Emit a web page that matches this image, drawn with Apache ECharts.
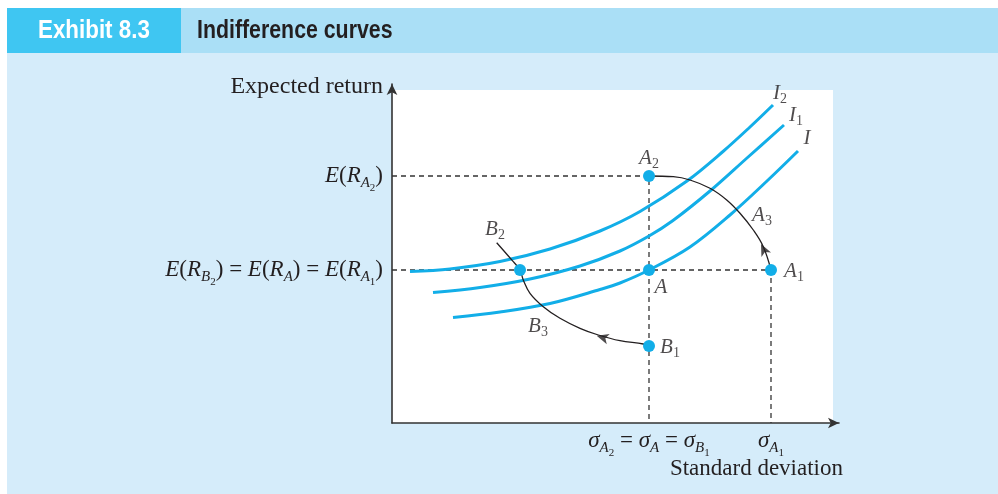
<!DOCTYPE html>
<html lang="en">
<head>
<meta charset="utf-8">
<title>Indifference curves</title>
<script src="https://cdn.jsdelivr.net/npm/echarts@6/dist/echarts.min.js"></script>
</head>
<body style="margin:0;background:#fff">
<div id="main" style="width:998px;height:494px"></div>
<script type="text/javascript">
    // axis extents (std deviation / expected return, arbitrary units)
    var xMax = 44.7;
    var yMax = 33.9;
    var plotBox = [44.1, 33.3];   // white plotting area

    // key values
    var sigmaA = 25.7, sigmaA1 = 37.9;
    var retA = 15.3, retA2 = 24.7;

    // indifference curves
    var curveI2 = [[1.8, 15.15], [5.8, 15.4], [10.8, 16.15], [15.8, 17.4], [20.8, 19.2], [24.8, 21.15], [29.5, 24.2], [33.1, 27.15], [35.8, 29.6], [38.1, 31.8]];
    var curveI1 = [[4.1, 13.05], [8.8, 13.55], [13.8, 14.4], [18.8, 15.7], [22.8, 17.2], [25.7, 18.7], [28.1, 20.25], [31.8, 23.2], [35.5, 26.5], [39.2, 29.8]];
    var curveI = [[6.1, 10.55], [10.8, 11.1], [15.8, 11.95], [20.8, 13.35], [22.8, 14.0], [25.7, 15.3], [29.8, 17.6], [33.8, 20.8], [37.5, 24.2], [40.6, 27.2]];

    // movement arcs
    var arcA = [[25.7, 24.7], [28.13, 24.63], [29.8, 24.3], [31.8, 23.47], [33.47, 22.3], [34.8, 20.97], [36.13, 19.3], [37.13, 17.63], [37.9, 15.3]];
    var arcB = [[10.47, 18.03], [12.13, 16.13], [12.8, 15.3], [13.13, 14.3], [13.8, 12.97], [15.13, 11.63], [16.8, 10.47], [18.8, 9.47], [20.63, 8.8], [22.8, 8.23], [25.13, 7.9], [25.7, 7.7]];
    var arrowPts = [[36.9, 17.9], [20.47, 8.73]];
    var arrowRot = [26, 74];

    // portfolios
    var dots = [[sigmaA, retA2], [sigmaA, retA], [sigmaA1, retA], [12.8, retA], [sigmaA, 7.7]];

    // annotation texts and their anchors
    var noteNames = ['A_2', 'A', 'A_1', 'A_3', 'B_1', 'B_2', 'B_3', 'I_2', 'I_1', 'I'];
    var notePos = [[25.7, 26.5], [26.9, 13.6], [40.2, 15.2], [37.0, 20.8], [27.8, 7.6], [10.3, 19.4], [14.6, 9.7], [38.8, 33.0], [40.4, 30.8], [41.5, 28.5]];

    // tick labels
    var xTickValues = [sigmaA, sigmaA1];
    var xTickLabels = [
        '{it|σ}{s1|A}{s2|2}{rm| = }{it|σ}{s1|A}{rm| = }{it|σ}{s1|B}{s2|1}',
        '{it|σ}{s1|A}{s2|1}'
    ];
    var yTickValues = [retA, retA2];
    var yTickLabels = [
        '{it|E}{rm|(}{it|R}{s1|B}{s2|2}{rm|) = }{it|E}{rm|(}{it|R}{s1|A}{rm|) = }{it|E}{rm|(}{it|R}{s1|A}{s2|1}{rm|)}',
        '{it|E}{rm|(}{it|R}{s1|A}{s2|2}{rm|)}'
    ];

    var serif = '"Liberation Serif", "Times New Roman", serif';
    var sans = 'bold 26px "Liberation Sans", Arial, sans-serif';
    var ink = '#231f20';
    var cyan = '#12aee8';

    var mathRich = {
        it: {fontFamily: serif, fontStyle: 'italic', fontSize: 23, color: ink},
        rm: {fontFamily: serif, fontSize: 23, color: ink},
        s1: {fontFamily: serif, fontStyle: 'italic', fontSize: 15, color: ink, padding: [14, 0, 0, 0]},
        s2: {fontFamily: serif, fontSize: 11, color: ink, padding: [25, 0, 0, 0]}
    };
    var noteRich = {
        v: {fontFamily: serif, fontStyle: 'italic', fontSize: 21, color: ink},
        n: {fontFamily: serif, fontSize: 14, color: ink, padding: [12, 0, 0, 0]}
    };

    function pickLabel(values, labels, v) {
        for (var i = 0; i < values.length; i++) {
            if (Math.abs(values[i] - v) < 1e-6) return labels[i];
        }
        return '';
    }

    function noteText(name) {
        var parts = name.split('_');
        return '{v|' + parts[0] + '}' + (parts[1] ? '{n|' + parts[1] + '}' : '');
    }

    function curve(data) {
        return {
            type: 'line', data: data, smooth: 0.35, showSymbol: false, silent: true, z: 3,
            lineStyle: {color: cyan, width: 3}
        };
    }

    function arc(data) {
        return {
            type: 'line', data: data, smooth: 0.4, showSymbol: false, silent: true, z: 4,
            lineStyle: {color: ink, width: 1.3}
        };
    }

    function dashed(data) {
        return {
            type: 'line', data: data, showSymbol: false, silent: true, z: 2,
            lineStyle: {color: '#333', width: 1.3, type: [5, 4]}
        };
    }

    var chart = echarts.init(document.getElementById('main'));
    var option = {
        animation: false,
        graphic: [
            {type: 'rect', silent: true, z: -10, shape: {x: 7, y: 53, width: 991, height: 441}, style: {fill: '#d5ecfa'}},
            {type: 'rect', silent: true, z: -10, shape: {x: 7, y: 8, width: 174, height: 45}, style: {fill: '#3fc6f2'}},
            {type: 'rect', silent: true, z: -10, shape: {x: 181, y: 8, width: 817, height: 45}, style: {fill: '#aadff6'}},
            {type: 'text', silent: true, z: -9, x: 38, y: 31, scaleX: 0.86, style: {
                text: 'Exhibit 8.3', fill: '#fff', font: sans, verticalAlign: 'middle'}},
            {type: 'text', silent: true, z: -9, x: 197, y: 31, scaleX: 0.82, style: {
                text: 'Indifference curves', fill: ink, font: sans, verticalAlign: 'middle'}}
        ],
        grid: {left: 392, right: 159, top: 84, bottom: 71},
        xAxis: {
            type: 'value', min: 0, max: xMax, z: 5,
            axisLine: {onZero: false, symbol: ['none', 'arrow'], symbolSize: [8, 11], lineStyle: {color: '#333', width: 1.6}},
            axisTick: {show: false},
            splitLine: {show: false},
            axisLabel: {
                customValues: xTickValues, margin: 0, rich: mathRich,
                formatter: function (v) { return pickLabel(xTickValues, xTickLabels, v); }
            },
            name: 'Standard deviation', nameLocation: 'end', nameGap: 4, nameMoveOverlap: false,
            nameTextStyle: {fontFamily: serif, fontSize: 23, color: ink, align: 'right', verticalAlign: 'top', padding: [34, 0, 0, 0]}
        },
        yAxis: {
            type: 'value', min: 0, max: yMax, z: 5,
            axisLine: {onZero: false, symbol: ['none', 'arrow'], symbolSize: [8, 11], lineStyle: {color: '#333', width: 1.6}},
            axisTick: {show: false},
            splitLine: {show: false},
            axisLabel: {
                customValues: yTickValues, margin: 9, rich: mathRich,
                formatter: function (v) { return pickLabel(yTickValues, yTickLabels, v); }
            },
            name: 'Expected return', nameLocation: 'end', nameGap: -3, nameMoveOverlap: false,
            nameTextStyle: {fontFamily: serif, fontSize: 24, color: ink, align: 'right', verticalAlign: 'middle', padding: [0, 9, 0, 0]}
        },
        series: [
            {
                type: 'line', data: [[0, 0]], showSymbol: false, silent: true, z: 0,
                lineStyle: {width: 0},
                markArea: {silent: true, itemStyle: {color: '#fff'}, data: [[{coord: [0, 0]}, {coord: plotBox}]]}
            },
            dashed([[0, retA2], [sigmaA, retA2], [sigmaA, 0]]),
            dashed([[0, retA], [sigmaA1, retA], [sigmaA1, 0]]),
            curve(curveI2),
            curve(curveI1),
            curve(curveI),
            arc(arcA),
            arc(arcB),
            {
                type: 'scatter', silent: true, z: 5, symbol: 'arrow', symbolSize: [8, 12],
                itemStyle: {color: ink},
                data: arrowPts.map(function (p, i) { return {value: p, symbolRotate: arrowRot[i]}; })
            },
            {
                type: 'scatter', silent: true, z: 6, symbolSize: 12,
                itemStyle: {color: cyan, opacity: 1},
                data: dots
            },
            {
                type: 'scatter', silent: true, z: 7, symbolSize: 1,
                itemStyle: {color: 'transparent'},
                label: {
                    show: true, position: 'inside', rich: noteRich,
                    formatter: function (p) { return noteText(noteNames[p.dataIndex]); }
                },
                data: notePos
            }
        ]
    };
    chart.setOption(option);
</script>
</body>
</html>
